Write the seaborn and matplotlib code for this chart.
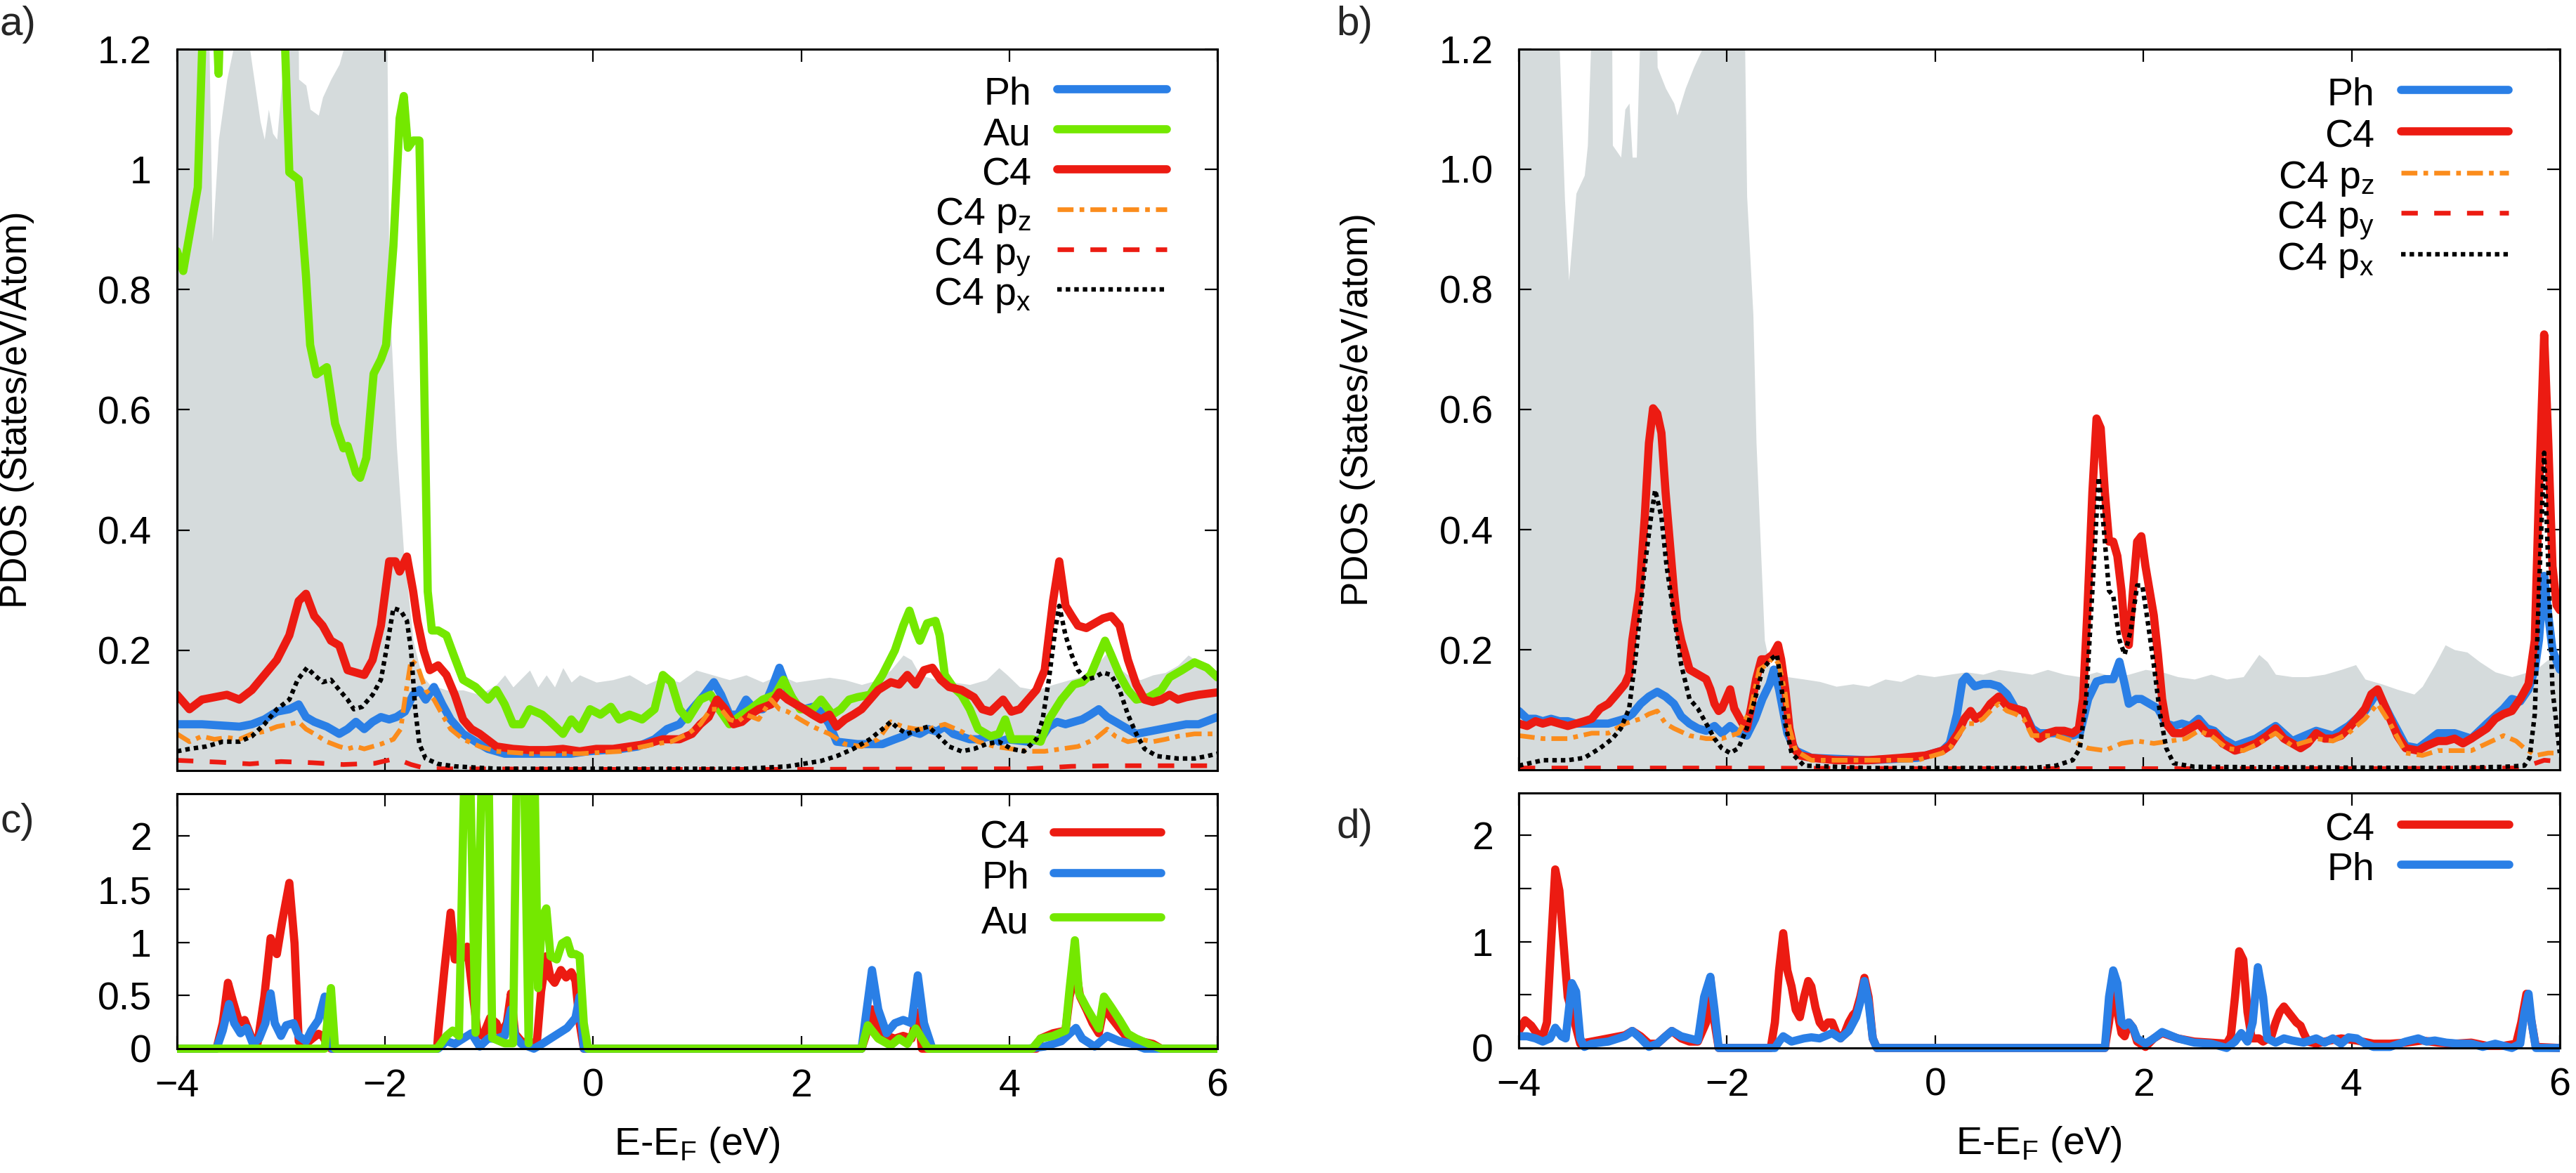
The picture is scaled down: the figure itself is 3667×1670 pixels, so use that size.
import matplotlib
matplotlib.use("Agg")
import matplotlib.pyplot as plt
import seaborn as sns
from matplotlib.transforms import Bbox, TransformedBbox, offset_copy

# ---------------------------------------------------------------- data
# panel a : energies (eV) and PDOS
E_tot_a = [-4.00, -3.72, -3.69, -3.66, -3.60, -3.52, -3.46, -3.44, -3.34, -3.30,
           -3.28, -3.20, -3.16, -3.12, -3.08, -3.04, -3.00, -2.96, -2.94, -2.85,
           -2.83, -2.76, -2.72, -2.64, -2.60, -2.52, -2.44, -2.40, -2.38, -2.00,
           -1.96, -1.89, -1.82, -1.78, -1.73, -1.65, -1.57, -1.41, -1.25, -1.09,
           -0.93, -0.85, -0.77, -0.61, -0.53, -0.45, -0.37, -0.29, -0.21, -0.13,
           0.03, 0.19, 0.35, 0.51, 0.67, 0.83, 0.99, 1.15, 1.31, 1.47,
           1.63, 1.79, 1.95, 2.11, 2.27, 2.42, 2.58, 2.74, 2.86, 2.98,
           3.06, 3.14, 3.30, 3.46, 3.62, 3.78, 3.90, 3.98, 4.10, 4.26,
           4.42, 4.58, 4.74, 4.86, 4.94, 5.02, 5.14, 5.26, 5.38, 5.50,
           5.62, 5.72, 5.82, 5.94, 6.00]
tot_a = [1.6, 1.6, 1.2, 0.88, 1.05, 1.15, 1.2, 1.6, 1.6, 1.2,
         1.175, 1.08, 1.05, 1.10, 1.06, 1.05, 1.13, 1.2, 1.6, 1.6,
         1.15, 1.14, 1.10, 1.09, 1.12, 1.15, 1.175, 1.2, 1.6, 1.6,
         0.79, 0.54, 0.36, 0.30, 0.216, 0.159, 0.143, 0.134, 0.134, 0.126,
         0.143, 0.159, 0.139, 0.167, 0.139, 0.159, 0.139, 0.171, 0.147, 0.159,
         0.147, 0.151, 0.159, 0.143, 0.155, 0.147, 0.167, 0.159, 0.151, 0.159,
         0.147, 0.159, 0.147, 0.151, 0.155, 0.151, 0.143, 0.151, 0.167, 0.192,
         0.184, 0.159, 0.151, 0.147, 0.143, 0.151, 0.171, 0.159, 0.139, 0.134,
         0.143, 0.151, 0.159, 0.180, 0.196, 0.175, 0.159, 0.151, 0.159, 0.163,
         0.175, 0.192, 0.180, 0.167, 0.163]

E_ph_a = [-4.00, -3.76, -3.40, -3.28, -3.16, -3.04, -2.92, -2.83, -2.76, -2.68,
          -2.56, -2.44, -2.36, -2.28, -2.20, -2.12, -2.04, -1.96, -1.89, -1.81,
          -1.73, -1.67, -1.61, -1.53, -1.45, -1.37, -1.25, -1.13, -1.01, -0.85,
          -0.53, -0.21, -0.05, 0.27, 0.43, 0.59, 0.71, 0.83, 0.95, 1.07,
          1.16, 1.23, 1.31, 1.39, 1.47, 1.55, 1.63, 1.71, 1.79, 1.87,
          1.95, 2.03, 2.11, 2.19, 2.27, 2.34, 2.54, 2.78, 2.90, 2.98,
          3.06, 3.14, 3.22, 3.30, 3.38, 3.46, 3.62, 3.70, 3.82, 3.90,
          3.98, 4.18, 4.30, 4.38, 4.46, 4.54, 4.62, 4.70, 4.78, 4.86,
          4.94, 5.02, 5.14, 5.22, 5.34, 5.46, 5.58, 5.70, 5.82, 5.94,
          6.00]
ph_a = [0.077, 0.077, 0.073, 0.077, 0.085, 0.098, 0.102, 0.110, 0.089, 0.081,
        0.073, 0.061, 0.069, 0.081, 0.069, 0.081, 0.089, 0.085, 0.089, 0.098,
        0.126, 0.134, 0.118, 0.139, 0.110, 0.085, 0.061, 0.048, 0.036, 0.028,
        0.028, 0.028, 0.032, 0.036, 0.040, 0.052, 0.069, 0.077, 0.102, 0.126,
        0.147, 0.126, 0.093, 0.093, 0.118, 0.102, 0.102, 0.134, 0.171, 0.134,
        0.110, 0.102, 0.106, 0.098, 0.077, 0.048, 0.044, 0.044, 0.052, 0.057,
        0.065, 0.061, 0.069, 0.065, 0.073, 0.061, 0.052, 0.052, 0.057, 0.048,
        0.052, 0.048, 0.052, 0.073, 0.081, 0.077, 0.081, 0.085, 0.093, 0.102,
        0.089, 0.081, 0.069, 0.061, 0.065, 0.069, 0.073, 0.077, 0.077, 0.085,
        0.089]

E_au_a = [-4.00, -3.94, -3.80, -3.74, -3.68, -3.60, -3.56, -3.50, -3.20, -2.96,
          -2.92, -2.83, -2.76, -2.72, -2.66, -2.56, -2.48, -2.40, -2.36, -2.28,
          -2.24, -2.18, -2.11, -2.04, -1.99, -1.92, -1.86, -1.82, -1.78, -1.73,
          -1.67, -1.63, -1.59, -1.55, -1.49, -1.41, -1.34, -1.25, -1.13, -1.01,
          -0.93, -0.85, -0.77, -0.69, -0.61, -0.49, -0.41, -0.29, -0.21, -0.13,
          -0.03, 0.07, 0.17, 0.25, 0.35, 0.47, 0.59, 0.67, 0.75, 0.83,
          0.91, 1.03, 1.13, 1.21, 1.31, 1.43, 1.51, 1.63, 1.75, 1.83,
          1.91, 1.99, 2.11, 2.19, 2.30, 2.38, 2.46, 2.54, 2.66, 2.78,
          2.90, 2.98, 3.04, 3.10, 3.14, 3.21, 3.29, 3.33, 3.38, 3.46,
          3.54, 3.62, 3.70, 3.82, 3.90, 3.96, 4.02, 4.10, 4.22, 4.30,
          4.38, 4.50, 4.62, 4.70, 4.78, 4.86, 4.92, 4.98, 5.06, 5.14,
          5.22, 5.34, 5.46, 5.54, 5.66, 5.78, 5.90, 6.00]
au_a = [0.864, 0.831, 0.970, 1.300, 1.500, 1.159, 1.400, 1.600, 1.700, 1.200,
        0.995, 0.983, 0.823, 0.708, 0.659, 0.671, 0.577, 0.536, 0.540, 0.495,
        0.487, 0.520, 0.660, 0.684, 0.708, 0.872, 1.085, 1.122, 1.036, 1.048,
        1.048, 0.708, 0.298, 0.233, 0.233, 0.225, 0.192, 0.151, 0.139, 0.118,
        0.134, 0.110, 0.077, 0.077, 0.102, 0.093, 0.081, 0.061, 0.085, 0.069,
        0.102, 0.093, 0.106, 0.085, 0.093, 0.085, 0.102, 0.159, 0.147, 0.102,
        0.085, 0.118, 0.126, 0.102, 0.077, 0.093, 0.102, 0.118, 0.126, 0.151,
        0.122, 0.102, 0.102, 0.118, 0.093, 0.102, 0.118, 0.122, 0.126, 0.159,
        0.200, 0.241, 0.266, 0.233, 0.216, 0.245, 0.249, 0.225, 0.159, 0.139,
        0.126, 0.102, 0.069, 0.057, 0.061, 0.085, 0.052, 0.052, 0.052, 0.048,
        0.085, 0.118, 0.143, 0.147, 0.159, 0.192, 0.216, 0.192, 0.159, 0.134,
        0.118, 0.122, 0.134, 0.155, 0.167, 0.180, 0.171, 0.155]

E_c4_a = [-4.00, -3.88, -3.76, -3.64, -3.52, -3.40, -3.28, -3.16, -3.04, -2.92,
          -2.83, -2.76, -2.68, -2.60, -2.52, -2.44, -2.36, -2.28, -2.20, -2.12,
          -2.04, -1.96, -1.90, -1.86, -1.79, -1.73, -1.69, -1.63, -1.57, -1.49,
          -1.41, -1.33, -1.25, -1.17, -1.09, -0.93, -0.77, -0.61, -0.45, -0.29,
          -0.13, 0.03, 0.19, 0.35, 0.51, 0.67, 0.83, 0.95, 1.03, 1.11,
          1.19, 1.27, 1.35, 1.43, 1.51, 1.59, 1.71, 1.79, 1.87, 1.95,
          2.03, 2.11, 2.19, 2.27, 2.34, 2.42, 2.50, 2.58, 2.66, 2.74,
          2.86, 2.94, 3.02, 3.10, 3.18, 3.26, 3.34, 3.42, 3.54, 3.66,
          3.74, 3.82, 3.94, 4.02, 4.10, 4.18, 4.26, 4.34, 4.42, 4.48,
          4.54, 4.60, 4.66, 4.74, 4.82, 4.90, 4.98, 5.06, 5.14, 5.22,
          5.30, 5.38, 5.46, 5.54, 5.62, 5.70, 5.82, 6.00]
c4_a = [0.126, 0.102, 0.118, 0.122, 0.126, 0.118, 0.134, 0.159, 0.184, 0.225,
        0.282, 0.294, 0.257, 0.241, 0.216, 0.208, 0.167, 0.163, 0.159, 0.184,
        0.241, 0.348, 0.348, 0.331, 0.356, 0.298, 0.249, 0.200, 0.167, 0.175,
        0.159, 0.126, 0.085, 0.069, 0.061, 0.040, 0.036, 0.034, 0.034, 0.036,
        0.032, 0.036, 0.036, 0.040, 0.044, 0.052, 0.052, 0.061, 0.077, 0.089,
        0.118, 0.102, 0.077, 0.081, 0.093, 0.102, 0.110, 0.130, 0.118, 0.110,
        0.102, 0.093, 0.085, 0.093, 0.073, 0.085, 0.093, 0.102, 0.118, 0.134,
        0.147, 0.143, 0.159, 0.143, 0.167, 0.171, 0.151, 0.139, 0.134, 0.122,
        0.102, 0.098, 0.118, 0.098, 0.102, 0.118, 0.134, 0.167, 0.282, 0.348,
        0.274, 0.257, 0.241, 0.237, 0.245, 0.253, 0.257, 0.241, 0.184, 0.143,
        0.118, 0.114, 0.118, 0.126, 0.118, 0.122, 0.126, 0.130]

E_pz_a = [-4.00, -3.88, -3.76, -3.64, -3.52, -3.40, -3.28, -3.16, -3.04, -2.92,
          -2.83, -2.76, -2.68, -2.56, -2.44, -2.36, -2.28, -2.20, -2.12, -2.04,
          -1.92, -1.85, -1.81, -1.75, -1.69, -1.61, -1.53, -1.45, -1.37, -1.25,
          -1.09, -0.93, -0.61, -0.13, 0.27, 0.59, 0.75, 0.91, 1.03, 1.13,
          1.23, 1.31, 1.39, 1.47, 1.59, 1.71, 1.79, 1.87, 1.99, 2.11,
          2.27, 2.42, 2.58, 2.74, 2.86, 2.98, 3.10, 3.22, 3.38, 3.54,
          3.70, 3.86, 4.02, 4.18, 4.34, 4.50, 4.66, 4.82, 4.94, 5.02,
          5.14, 5.26, 5.38, 5.50, 5.62, 5.78, 6.00]
pz_a = [0.061, 0.048, 0.057, 0.052, 0.055, 0.052, 0.061, 0.065, 0.073, 0.077,
        0.081, 0.069, 0.061, 0.048, 0.040, 0.036, 0.040, 0.036, 0.040, 0.044,
        0.052, 0.069, 0.118, 0.184, 0.175, 0.134, 0.118, 0.093, 0.069, 0.052,
        0.040, 0.032, 0.028, 0.028, 0.032, 0.044, 0.048, 0.061, 0.077, 0.102,
        0.102, 0.085, 0.081, 0.093, 0.085, 0.118, 0.102, 0.098, 0.085, 0.073,
        0.061, 0.044, 0.040, 0.052, 0.081, 0.073, 0.069, 0.069, 0.077, 0.065,
        0.048, 0.040, 0.036, 0.032, 0.032, 0.036, 0.040, 0.052, 0.069, 0.057,
        0.048, 0.052, 0.048, 0.052, 0.057, 0.061, 0.061]

E_py_a = [-4.0, -3.6, -3.3, -3.0, -2.7, -2.4, -2.1, -1.9, -1.75, -1.6,
          0.0, 2.0, 4.2, 4.4, 4.6, 5.0, 5.5, 6.0]
py_a = [0.017, 0.014, 0.011, 0.015, 0.013, 0.010, 0.012, 0.020, 0.010, 0.003,
        0.002, 0.002, 0.003, 0.005, 0.007, 0.008, 0.008, 0.008]

E_px_a = [-4.00, -3.88, -3.72, -3.56, -3.40, -3.28, -3.16, -3.04, -2.92, -2.84,
          -2.75, -2.68, -2.60, -2.52, -2.44, -2.36, -2.30, -2.22, -2.12, -2.04,
          -1.98, -1.92, -1.85, -1.79, -1.75, -1.71, -1.67, -1.61, -1.49, -1.33,
          -0.93, 0.67, 1.47, 1.87, 2.19, 2.34, 2.50, 2.66, 2.78, 2.86,
          2.94, 3.02, 3.14, 3.22, 3.30, 3.42, 3.54, 3.66, 3.78, 3.90,
          4.02, 4.14, 4.26, 4.32, 4.38, 4.44, 4.48, 4.54, 4.60, 4.66,
          4.74, 4.82, 4.90, 4.98, 5.06, 5.14, 5.22, 5.30, 5.42, 5.62,
          5.78, 5.90, 6.00]
px_a = [0.032, 0.036, 0.040, 0.048, 0.048, 0.057, 0.077, 0.102, 0.118, 0.151,
        0.171, 0.159, 0.147, 0.151, 0.134, 0.118, 0.102, 0.106, 0.126, 0.151,
        0.208, 0.270, 0.266, 0.249, 0.200, 0.102, 0.044, 0.020, 0.011, 0.007,
        0.003, 0.003, 0.003, 0.007, 0.016, 0.024, 0.036, 0.052, 0.069, 0.081,
        0.069, 0.061, 0.069, 0.073, 0.061, 0.040, 0.032, 0.036, 0.044, 0.048,
        0.036, 0.032, 0.052, 0.085, 0.151, 0.233, 0.274, 0.225, 0.192, 0.167,
        0.151, 0.155, 0.163, 0.159, 0.134, 0.093, 0.061, 0.036, 0.024, 0.020,
        0.020, 0.024, 0.028]

# panel b
E_tot_b = [-4.00, -3.62, -3.61, -3.56, -3.52, -3.45, -3.37, -3.34, -3.31, -3.30,
           -3.12, -3.10, -3.02, -2.98, -2.94, -2.91, -2.87, -2.84, -2.83, -2.70,
           -2.67, -2.59, -2.51, -2.48, -2.40, -2.32, -2.24, -2.22, -1.86, -1.81,
           -1.75, -1.72, -1.68, -1.64, -1.58, -1.50, -1.42, -1.26, -1.11, -0.95,
           -0.79, -0.64, -0.48, -0.33, -0.17, -0.01, 0.14, 0.30, 0.46, 0.61,
           0.77, 0.93, 1.08, 1.24, 1.39, 1.55, 1.71, 1.86, 2.02, 2.18,
           2.33, 2.49, 2.65, 2.80, 2.96, 3.11, 3.19, 3.27, 3.43, 3.58,
           3.74, 3.90, 4.04, 4.13, 4.29, 4.44, 4.60, 4.68, 4.80, 4.90,
           4.99, 5.11, 5.23, 5.38, 5.54, 5.62, 5.77, 5.89, 6.00]
tot_b = [1.6, 1.6, 1.2, 0.95, 0.815, 0.96, 0.99, 1.04, 1.2, 1.6,
         1.6, 1.04, 1.02, 1.10, 1.11, 1.02, 1.02, 1.2, 1.6, 1.6,
         1.17, 1.135, 1.11, 1.09, 1.135, 1.17, 1.2, 1.6, 1.6, 0.955,
         0.758, 0.545, 0.38, 0.216, 0.167, 0.159, 0.155, 0.151, 0.147, 0.139,
         0.143, 0.139, 0.151, 0.147, 0.159, 0.155, 0.159, 0.163, 0.159, 0.167,
         0.163, 0.159, 0.167, 0.159, 0.155, 0.163, 0.155, 0.159, 0.167, 0.163,
         0.155, 0.151, 0.159, 0.151, 0.155, 0.192, 0.180, 0.159, 0.155, 0.155,
         0.159, 0.167, 0.175, 0.151, 0.143, 0.134, 0.126, 0.139, 0.175, 0.208,
         0.200, 0.196, 0.180, 0.163, 0.155, 0.159, 0.167, 0.184, 0.184]

E_ph_b = [-4.00, -3.92, -3.84, -3.77, -3.69, -3.61, -3.53, -3.45, -3.30, -3.14,
          -3.06, -2.98, -2.91, -2.83, -2.75, -2.67, -2.59, -2.51, -2.44, -2.36,
          -2.28, -2.20, -2.12, -2.05, -1.97, -1.89, -1.81, -1.73, -1.66, -1.59,
          -1.55, -1.50, -1.42, -1.34, -1.19, -0.64, -0.17, 0.07, 0.14, 0.21,
          0.26, 0.30, 0.38, 0.46, 0.53, 0.61, 0.69, 0.77, 0.85, 0.93,
          1.00, 1.16, 1.32, 1.39, 1.47, 1.55, 1.63, 1.71, 1.77, 1.82,
          1.86, 1.93, 1.98, 2.06, 2.14, 2.22, 2.29, 2.37, 2.45, 2.53,
          2.61, 2.68, 2.76, 2.88, 3.08, 3.27, 3.43, 3.66, 3.82, 3.97,
          4.13, 4.25, 4.37, 4.52, 4.64, 4.83, 4.99, 5.15, 5.30, 5.46,
          5.54, 5.62, 5.70, 5.76, 5.80, 5.85, 5.89, 5.93, 6.00]
ph_b = [0.098, 0.085, 0.085, 0.081, 0.085, 0.081, 0.081, 0.077, 0.077, 0.077,
        0.081, 0.085, 0.093, 0.110, 0.122, 0.130, 0.122, 0.110, 0.089, 0.077,
        0.069, 0.065, 0.073, 0.061, 0.073, 0.061, 0.057, 0.085, 0.118, 0.143,
        0.167, 0.134, 0.061, 0.032, 0.020, 0.016, 0.020, 0.032, 0.044, 0.093,
        0.147, 0.155, 0.139, 0.143, 0.143, 0.139, 0.126, 0.102, 0.098, 0.069,
        0.061, 0.061, 0.057, 0.061, 0.118, 0.147, 0.151, 0.151, 0.180, 0.143,
        0.110, 0.118, 0.118, 0.110, 0.102, 0.077, 0.073, 0.077, 0.073, 0.085,
        0.069, 0.065, 0.052, 0.040, 0.052, 0.073, 0.048, 0.065, 0.057, 0.073,
        0.098, 0.130, 0.089, 0.040, 0.036, 0.061, 0.061, 0.052, 0.077, 0.102,
        0.118, 0.114, 0.134, 0.167, 0.216, 0.323, 0.257, 0.200, 0.167]

E_c4_b = [-4.00, -3.92, -3.84, -3.77, -3.69, -3.61, -3.53, -3.45, -3.37, -3.30,
          -3.22, -3.14, -3.06, -2.98, -2.94, -2.91, -2.84, -2.79, -2.75, -2.71,
          -2.67, -2.63, -2.59, -2.55, -2.51, -2.48, -2.44, -2.40, -2.36, -2.28,
          -2.20, -2.16, -2.12, -2.08, -2.05, -2.01, -1.97, -1.93, -1.85, -1.81,
          -1.77, -1.72, -1.67, -1.62, -1.56, -1.51, -1.48, -1.44, -1.40, -1.36,
          -1.30, -1.19, -0.95, -0.64, -0.33, -0.09, 0.07, 0.14, 0.22, 0.28,
          0.34, 0.39, 0.46, 0.53, 0.61, 0.69, 0.77, 0.85, 0.93, 1.00,
          1.08, 1.16, 1.24, 1.32, 1.38, 1.42, 1.46, 1.51, 1.55, 1.59,
          1.63, 1.67, 1.71, 1.75, 1.79, 1.82, 1.86, 1.90, 1.94, 1.98,
          2.02, 2.06, 2.10, 2.14, 2.18, 2.22, 2.29, 2.37, 2.45, 2.53,
          2.61, 2.68, 2.76, 2.88, 2.96, 3.08, 3.19, 3.27, 3.35, 3.43,
          3.51, 3.58, 3.66, 3.74, 3.82, 3.90, 3.97, 4.05, 4.13, 4.19,
          4.25, 4.29, 4.37, 4.44, 4.52, 4.64, 4.72, 4.83, 4.91, 4.99,
          5.07, 5.15, 5.23, 5.30, 5.38, 5.46, 5.54, 5.62, 5.70, 5.76,
          5.80, 5.85, 5.89, 5.93, 5.97, 6.00]
c4_b = [0.077, 0.073, 0.081, 0.077, 0.081, 0.077, 0.073, 0.077, 0.081, 0.085,
        0.102, 0.110, 0.126, 0.143, 0.159, 0.216, 0.298, 0.421, 0.544, 0.602,
        0.593, 0.561, 0.462, 0.380, 0.298, 0.249, 0.216, 0.192, 0.167, 0.159,
        0.151, 0.134, 0.110, 0.098, 0.102, 0.118, 0.134, 0.102, 0.077, 0.069,
        0.102, 0.151, 0.184, 0.184, 0.192, 0.208, 0.184, 0.134, 0.069, 0.036,
        0.024, 0.020, 0.016, 0.016, 0.020, 0.024, 0.032, 0.040, 0.061, 0.085,
        0.098, 0.085, 0.093, 0.110, 0.122, 0.106, 0.102, 0.098, 0.065, 0.052,
        0.061, 0.065, 0.065, 0.061, 0.069, 0.118, 0.257, 0.462, 0.585, 0.569,
        0.462, 0.380, 0.380, 0.356, 0.298, 0.233, 0.208, 0.298, 0.380, 0.389,
        0.339, 0.298, 0.257, 0.192, 0.118, 0.077, 0.061, 0.061, 0.069, 0.077,
        0.061, 0.061, 0.044, 0.032, 0.036, 0.044, 0.057, 0.069, 0.052, 0.044,
        0.036, 0.044, 0.061, 0.052, 0.052, 0.057, 0.069, 0.085, 0.102, 0.126,
        0.134, 0.118, 0.085, 0.057, 0.036, 0.032, 0.040, 0.048, 0.048, 0.052,
        0.044, 0.052, 0.061, 0.069, 0.085, 0.093, 0.098, 0.118, 0.143, 0.216,
        0.462, 0.725, 0.544, 0.339, 0.274, 0.266]

E_pz_b = [-4.00, -3.77, -3.53, -3.30, -3.14, -2.98, -2.83, -2.75, -2.67, -2.59,
          -2.51, -2.36, -2.20, -2.05, -1.89, -1.77, -1.69, -1.62, -1.55, -1.50,
          -1.44, -1.40, -1.34, -1.19, -0.17, 0.07, 0.14, 0.22, 0.30, 0.38,
          0.46, 0.53, 0.61, 0.69, 0.77, 0.85, 0.93, 1.16, 1.32, 1.47,
          1.63, 1.79, 1.94, 2.10, 2.26, 2.41, 2.53, 2.65, 2.80, 2.96,
          3.11, 3.27, 3.43, 3.66, 3.82, 3.97, 4.13, 4.25, 4.37, 4.52,
          4.68, 4.83, 4.99, 5.15, 5.30, 5.46, 5.58, 5.66, 5.77, 5.89,
          6.00]
pz_b = [0.057, 0.052, 0.052, 0.061, 0.061, 0.077, 0.085, 0.093, 0.098, 0.077,
        0.069, 0.057, 0.052, 0.052, 0.061, 0.102, 0.167, 0.175, 0.188, 0.175,
        0.126, 0.069, 0.032, 0.016, 0.016, 0.028, 0.036, 0.057, 0.077, 0.077,
        0.085, 0.098, 0.110, 0.098, 0.093, 0.085, 0.057, 0.057, 0.048, 0.036,
        0.032, 0.044, 0.048, 0.044, 0.048, 0.052, 0.065, 0.057, 0.036, 0.032,
        0.044, 0.061, 0.040, 0.052, 0.048, 0.061, 0.085, 0.110, 0.077, 0.028,
        0.024, 0.032, 0.032, 0.032, 0.044, 0.057, 0.048, 0.036, 0.024, 0.028,
        0.028]

E_py_b = [-4.0, -2.0, 0.0, 2.0, 4.0, 5.6, 5.75, 5.85, 6.0]
py_b = [0.003, 0.003, 0.002, 0.002, 0.002, 0.003, 0.010, 0.016, 0.014]

E_px_b = [-4.00, -3.77, -3.53, -3.37, -3.22, -3.10, -3.02, -2.94, -2.87, -2.79,
          -2.73, -2.69, -2.63, -2.58, -2.51, -2.44, -2.36, -2.28, -2.20, -2.12,
          -2.05, -1.97, -1.89, -1.81, -1.73, -1.66, -1.58, -1.52, -1.48, -1.44,
          -1.38, -1.26, -0.64, 0.93, 1.16, 1.32, 1.39, 1.45, 1.51, 1.57,
          1.61, 1.67, 1.71, 1.77, 1.82, 1.88, 1.94, 1.99, 2.04, 2.10,
          2.16, 2.22, 2.29, 2.49, 4.83, 5.46, 5.66, 5.71, 5.76, 5.80,
          5.85, 5.89, 5.93, 6.00]
px_b = [0.007, 0.016, 0.016, 0.020, 0.036, 0.052, 0.069, 0.102, 0.200, 0.339,
        0.421, 0.466, 0.421, 0.339, 0.257, 0.175, 0.118, 0.102, 0.077, 0.052,
        0.036, 0.028, 0.036, 0.069, 0.118, 0.167, 0.184, 0.192, 0.143, 0.077,
        0.028, 0.007, 0.003, 0.003, 0.007, 0.016, 0.036, 0.118, 0.298, 0.487,
        0.421, 0.298, 0.290, 0.216, 0.192, 0.233, 0.307, 0.307, 0.249, 0.175,
        0.093, 0.036, 0.011, 0.005, 0.003, 0.005, 0.007, 0.020, 0.093, 0.298,
        0.528, 0.339, 0.134, 0.028]

# panel c
E_c4_c = [-4.00, -3.62, -3.56, -3.51, -3.46, -3.40, -3.35, -3.28, -3.23, -3.16,
          -3.10, -3.04, -2.99, -2.92, -2.87, -2.83, -2.76, -2.70, -2.64, -2.60,
          -2.56, -2.52, -1.50, -1.49, -1.43, -1.37, -1.33, -1.27, -1.21, -1.17,
          -1.11, -1.06, -0.99, -0.93, -0.89, -0.83, -0.79, -0.75, -0.69, -0.61,
          -0.54, -0.50, -0.45, -0.41, -0.37, -0.31, -0.26, -0.21, -0.17, -0.13,
          -0.09, 2.58, 2.62, 2.68, 2.74, 2.82, 2.90, 2.98, 3.06, 3.12,
          3.16, 4.26, 4.30, 4.42, 4.54, 4.58, 4.64, 4.68, 4.74, 4.80,
          4.86, 4.91, 4.98, 5.06, 5.14, 5.26, 5.38, 5.46, 6.00]
c4_c = [0, 0, 0.24, 0.62, 0.44, 0.24, 0.27, 0.095, 0.02, 0.49,
        1.04, 0.89, 1.19, 1.56, 0.99, 0.07, 0.045, 0.095, 0.14, 0.12,
        0.045, 0, 0, 0.14, 0.74, 1.28, 0.84, 0.84, 0.96, 0.62,
        0.14, 0.12, 0.29, 0.24, 0.14, 0.24, 0.52, 0.14, 0.07, 0.045,
        0.07, 0.54, 0.87, 0.67, 0.62, 0.74, 0.67, 0.72, 0.64, 0.24,
        0, 0, 0.12, 0.37, 0.145, 0.12, 0.095, 0.12, 0.095, 0.34,
        0, 0, 0.095, 0.145, 0.17, 0.49, 0.74, 0.49, 0.37, 0.24,
        0.145, 0.39, 0.29, 0.19, 0.095, 0.07, 0.045, 0, 0]

E_ph_c = [-4.00, -3.62, -3.56, -3.50, -3.45, -3.39, -3.33, -3.27, -3.21, -3.15,
          -3.10, -3.06, -3.00, -2.95, -2.88, -2.83, -2.76, -2.71, -2.64, -2.58,
          -2.55, -2.51, -1.49, -1.41, -1.33, -1.25, -1.17, -1.09, -1.01, -0.93,
          -0.85, -0.79, -0.75, -0.69, -0.57, -0.49, -0.41, -0.33, -0.25, -0.17,
          -0.13, -0.09, 2.58, 2.62, 2.68, 2.74, 2.82, 2.90, 2.98, 3.06,
          3.12, 3.18, 3.26, 4.18, 4.34, 4.50, 4.64, 4.70, 4.82, 4.94,
          5.06, 5.18, 5.30, 6.00]
ph_c = [0, 0, 0.17, 0.42, 0.24, 0.145, 0.195, 0.045, 0.095, 0.24,
        0.52, 0.24, 0.12, 0.22, 0.24, 0.12, 0.07, 0.17, 0.27, 0.49,
        0.24, 0, 0, 0.07, 0.045, 0.095, 0.145, 0.02, 0.095, 0.095,
        0.12, 0.37, 0.12, 0.045, 0, 0.045, 0.095, 0.145, 0.195, 0.29,
        0.49, 0, 0, 0.30, 0.74, 0.37, 0.145, 0.24, 0.27, 0.24,
        0.69, 0.24, 0, 0, 0.02, 0.07, 0.195, 0.095, 0.02, 0.12,
        0.07, 0.045, 0, 0]

E_au_c = [-4.00, -2.58, -2.55, -2.52, -2.48, -1.50, -1.41, -1.35, -1.29, -1.23,
          -1.19, -1.13, -1.06, -1.01, -0.97, -0.85, -0.77, -0.73, -0.67, -0.62,
          -0.57, -0.53, -0.49, -0.45, -0.41, -0.35, -0.30, -0.25, -0.21, -0.17,
          -0.13, -0.09, -0.05, 2.58, 2.64, 2.74, 2.86, 2.94, 3.02, 3.10,
          3.16, 3.22, 4.22, 4.30, 4.42, 4.54, 4.58, 4.63, 4.67, 4.74,
          4.80, 4.86, 4.91, 4.98, 5.06, 5.14, 5.22, 5.34, 5.46, 6.00]
au_c = [0, 0, 0.30, 0.57, 0, 0, 0.12, 0.17, 0.12, 3.0,
        3.0, 0.15, 3.0, 3.0, 0.10, 0.05, 0.05, 3.0, 3.0, 0.05,
        3.0, 0.57, 1.24, 1.32, 0.87, 0.84, 0.99, 1.02, 0.89, 0.89,
        0.87, 0.24, 0, 0, 0.22, 0.095, 0.03, 0.095, 0.045, 0.19,
        0.095, 0, 0, 0.095, 0.12, 0.17, 0.57, 1.02, 0.52, 0.39,
        0.29, 0.19, 0.49, 0.39, 0.27, 0.14, 0.095, 0.045, 0, 0]

# panel d
E_c4_d = [-4.00, -3.94, -3.88, -3.83, -3.77, -3.73, -3.69, -3.65, -3.61, -3.57,
          -3.53, -3.49, -3.45, -3.41, -3.30, -3.14, -2.98, -2.91, -2.83, -2.75,
          -2.67, -2.59, -2.53, -2.44, -2.36, -2.28, -2.20, -2.16, -2.12, -2.08,
          -1.58, -1.54, -1.50, -1.46, -1.42, -1.38, -1.34, -1.30, -1.26, -1.22,
          -1.19, -1.15, -1.11, -1.07, -1.03, -0.99, -0.95, -0.91, -0.87, -0.83,
          -0.79, -0.76, -0.72, -0.68, -0.64, -0.60, -0.56, 1.63, 1.67, 1.71,
          1.75, 1.79, 1.82, 1.86, 1.90, 1.94, 2.02, 2.10, 2.18, 2.33,
          2.49, 2.65, 2.80, 2.84, 2.88, 2.92, 2.96, 3.00, 3.04, 3.11,
          3.15, 3.23, 3.27, 3.31, 3.35, 3.39, 3.43, 3.47, 3.51, 3.54,
          3.58, 3.66, 3.74, 3.90, 4.05, 4.21, 4.37, 4.52, 4.68, 4.83,
          4.99, 5.15, 5.30, 5.46, 5.58, 5.63, 5.68, 5.73, 5.77, 6.00]
c4_d = [0.16, 0.26, 0.21, 0.14, 0.11, 0.24, 0.98, 1.68, 1.48, 0.98,
        0.48, 0.34, 0.19, 0.04, 0.06, 0.09, 0.12, 0.16, 0.11, 0.04,
        0.04, 0.11, 0.16, 0.09, 0.06, 0.06, 0.24, 0.66, 0.24, 0,
        0, 0.24, 0.73, 1.08, 0.73, 0.58, 0.36, 0.29, 0.48, 0.63,
        0.58, 0.38, 0.24, 0.19, 0.24, 0.24, 0.14, 0.09, 0.14, 0.24,
        0.31, 0.34, 0.48, 0.66, 0.48, 0.09, 0, 0, 0.24, 0.56,
        0.34, 0.14, 0.11, 0.24, 0.19, 0.06, 0.01, 0.09, 0.14, 0.09,
        0.06, 0.05, 0.04, 0.11, 0.48, 0.91, 0.83, 0.34, 0.09, 0.09,
        0.06, 0.11, 0.24, 0.34, 0.39, 0.34, 0.29, 0.24, 0.21, 0.14,
        0.06, 0.04, 0.06, 0.09, 0.07, 0.04, 0.04, 0.05, 0.07, 0.05,
        0.04, 0.05, 0.02, 0.02, 0.04, 0.24, 0.51, 0.24, 0.01, 0]

E_ph_d = [-4.00, -3.92, -3.84, -3.77, -3.70, -3.65, -3.59, -3.55, -3.49, -3.45,
          -3.41, -3.37, -3.30, -3.14, -2.98, -2.91, -2.83, -2.75, -2.67, -2.59,
          -2.53, -2.44, -2.28, -2.22, -2.16, -2.12, -2.08, -1.54, -1.50, -1.46,
          -1.38, -1.26, -1.19, -1.11, -0.99, -0.91, -0.83, -0.76, -0.72, -0.68,
          -0.64, -0.60, -0.56, 1.63, 1.67, 1.71, 1.75, 1.79, 1.82, 1.86,
          1.90, 1.94, 2.02, 2.10, 2.18, 2.33, 2.49, 2.65, 2.80, 2.88,
          2.94, 3.00, 3.05, 3.10, 3.15, 3.19, 3.27, 3.35, 3.43, 3.54,
          3.66, 3.74, 3.82, 3.90, 3.97, 4.05, 4.13, 4.21, 4.37, 4.52,
          4.64, 4.72, 4.80, 4.91, 5.03, 5.15, 5.26, 5.38, 5.54, 5.62,
          5.66, 5.70, 5.73, 5.77, 6.00]
ph_d = [0.11, 0.11, 0.09, 0.06, 0.09, 0.19, 0.11, 0.09, 0.61, 0.53,
        0.09, 0.01, 0.04, 0.06, 0.11, 0.16, 0.09, 0.01, 0.04, 0.11,
        0.16, 0.11, 0.07, 0.48, 0.67, 0.36, 0, 0, 0.06, 0.11,
        0.06, 0.09, 0.10, 0.09, 0.14, 0.09, 0.16, 0.29, 0.43, 0.63,
        0.43, 0.09, 0, 0, 0.48, 0.73, 0.61, 0.24, 0.21, 0.24,
        0.19, 0.09, 0.04, 0.09, 0.15, 0.09, 0.05, 0.04, 0, 0.06,
        0.14, 0.06, 0.24, 0.76, 0.48, 0.09, 0.05, 0.09, 0.07, 0.05,
        0.09, 0.05, 0.09, 0.04, 0.10, 0.09, 0.04, 0.01, 0.01, 0.06,
        0.09, 0.06, 0.07, 0.05, 0.04, 0.04, 0.01, 0.04, 0, 0.04,
        0.33, 0.51, 0.24, 0, 0]

x_ticks = [-4, -2, 0, 2, 4, 6]
ytick_a = [0.2, 0.4, 0.6, 0.8, 1.0, 1.2]
ylab_a = ["0.2", "0.4", "0.6", "0.8", "1", "1.2"]
ylab_b = ["0.2", "0.4", "0.6", "0.8", "1.0", "1.2"]
ytick_cd = [0, 0.5, 1, 1.5, 2]
ylab_c = ["0", "0.5", "1", "1.5", "2"]
ylab_d = ["0", "", "1", "", "2"]

# ---------------------------------------------------------------- style
sns.set_theme(style="ticks")
plt.rcParams["font.family"] = ["Liberation Sans", "DejaVu Sans"]
plt.rcParams["mathtext.default"] = "regular"

BLUE = "#2a7fe6"
GREEN = "#74e800"
RED = "#ec1b12"
ORANGE = "#fb8c1c"
GRAY = "#d5dbdc"
FS = 40

STYLES = {
    "Ph": dict(color=BLUE, lw=8.4, ls="-"),
    "Au": dict(color=GREEN, lw=8.4, ls="-"),
    "C4": dict(color=RED, lw=8.4, ls="-"),
    "pz": dict(color=ORANGE, lw=4.8, ls=(0, (3.4, 1.3, 1.0, 1.3))),
    "py": dict(color=RED, lw=4.8, ls=(0, (3.5, 3.5))),
    "px": dict(color="black", lw=4.6, ls=(0, (1.0, 0.9))),
}


def curve(ax, E, v, name):
    assert len(E) == len(v), name
    sns.lineplot(x=E, y=v, ax=ax, errorbar=None, **STYLES[name])


def frame(ax, ylim, yticks, ylabels, xlabels):
    ax.set_xlim(-4, 6)
    ax.set_ylim(*ylim)
    ax.set_xticks(x_ticks)
    ax.set_yticks(yticks)
    ax.set_yticklabels(ylabels)
    ax.tick_params(direction="in", length=13, width=1.6, top=True, right=True,
                   labelsize=FS, colors="black")
    ax.tick_params(axis="x", pad=20, labelbottom=xlabels)
    ax.tick_params(axis="y", pad=26)
    for sp in ax.spines.values():
        sp.set_linewidth(2.2)
        sp.set_color("black")
    ax.set_xlabel("")
    ax.set_ylabel("")


def extend_clip(ax, lo):
    box = TransformedBbox(Bbox([[0, lo], [1, 1]]), ax.transAxes)
    for ln in ax.lines:
        ln.set_clip_box(box)


def key(ax, names, labels, x_text, x0, x1, rows):
    base = offset_copy(ax.transAxes, fig=ax.figure, y=-16, units="points")
    for name, lab, y in zip(names, labels, rows):
        ax.plot([x0, x1], [y, y], transform=ax.transAxes, clip_on=False,
                **STYLES[name])
        ax.text(x_text, y, lab, transform=base, ha="right", va="baseline",
                fontsize=FS, color="black")


fig = plt.figure(figsize=(36.67, 16.70), dpi=100)
ax_a = fig.add_axes([0.0687, 0.3431, 0.4039, 0.6150])
ax_b = fig.add_axes([0.5896, 0.3437, 0.4041, 0.6144])
ax_c = fig.add_axes([0.0687, 0.1060, 0.4039, 0.2174])
ax_d = fig.add_axes([0.5896, 0.1066, 0.4041, 0.2174])

# ---------------------------------------------------------------- a
ax_a.fill_between(E_tot_a, 0, tot_a, color=GRAY, lw=0, zorder=0.5)
curve(ax_a, E_ph_a, ph_a, "Ph")
curve(ax_a, E_au_a, au_a, "Au")
curve(ax_a, E_c4_a, c4_a, "C4")
curve(ax_a, E_pz_a, pz_a, "pz")
curve(ax_a, E_py_a, py_a, "py")
curve(ax_a, E_px_a, px_a, "px")
frame(ax_a, (0, 1.2), ytick_a, ylab_a, False)
extend_clip(ax_a, -0.01)
key(ax_a, ["Ph", "Au", "C4", "pz", "py", "px"],
    ["Ph", "Au", "C4", "C4 p$_z$", "C4 p$_y$", "C4 p$_x$"],
    0.8211, 0.8461, 0.9514, [0.9445, 0.8890, 0.8335, 0.7780, 0.7225, 0.6670])
ax_a.set_ylabel("PDOS (States/eV/Atom)", fontsize=38, color="black")
ax_a.yaxis.set_label_coords(-0.137, 0.5)

# ---------------------------------------------------------------- b
ax_b.fill_between(E_tot_b, 0, tot_b, color=GRAY, lw=0, zorder=0.5)
curve(ax_b, E_ph_b, ph_b, "Ph")
curve(ax_b, E_c4_b, c4_b, "C4")
curve(ax_b, E_pz_b, pz_b, "pz")
curve(ax_b, E_py_b, py_b, "py")
curve(ax_b, E_px_b, px_b, "px")
frame(ax_b, (0, 1.2), ytick_a, ylab_b, False)
extend_clip(ax_b, -0.01)
key(ax_b, ["Ph", "C4", "pz", "py", "px"],
    ["Ph", "C4", "C4 p$_z$", "C4 p$_y$", "C4 p$_x$"],
    0.8219, 0.8475, 0.9507, [0.9435, 0.8860, 0.8285, 0.7729, 0.7154])
ax_b.set_ylabel("PDOS (States/eV/atom)", fontsize=38, color="black")
ax_b.yaxis.set_label_coords(-0.138, 0.5)

# ---------------------------------------------------------------- c
curve(ax_c, E_c4_c, c4_c, "C4")
curve(ax_c, E_ph_c, ph_c, "Ph")
curve(ax_c, E_au_c, au_c, "Au")
frame(ax_c, (0, 2.4), ytick_cd, ylab_c, True)
extend_clip(ax_c, -0.04)
key(ax_c, ["C4", "Ph", "Au"], ["C4", "Ph", "Au"],
    0.8191, 0.8427, 0.9460, [0.8485, 0.6887, 0.5152])
ax_c.set_xlabel("E-E$_F$ (eV)", fontsize=FS, color="black")
ax_c.xaxis.set_label_coords(0.5, -0.30)

# ---------------------------------------------------------------- d
curve(ax_d, E_c4_d, c4_d, "C4")
curve(ax_d, E_ph_d, ph_d, "Ph")
frame(ax_d, (0, 2.4), ytick_cd, ylab_d, True)
extend_clip(ax_d, -0.04)
key(ax_d, ["C4", "Ph"], ["C4", "Ph"],
    0.8219, 0.8475, 0.9514, [0.876, 0.719])
ax_d.set_xlabel("E-E$_F$ (eV)", fontsize=FS, color="black")
ax_d.xaxis.set_label_coords(0.5, -0.30)

# panel letters
for txt, x, y in [("a)", 25, 35), ("b)", 1928, 35), ("c)", 25, 1170), ("d)", 1928, 1178)]:
    fig.text(x / 3667, 1 - y / 1670, txt, ha="center", va="center", fontsize=42)

fig.savefig("out.png", dpi=100)
